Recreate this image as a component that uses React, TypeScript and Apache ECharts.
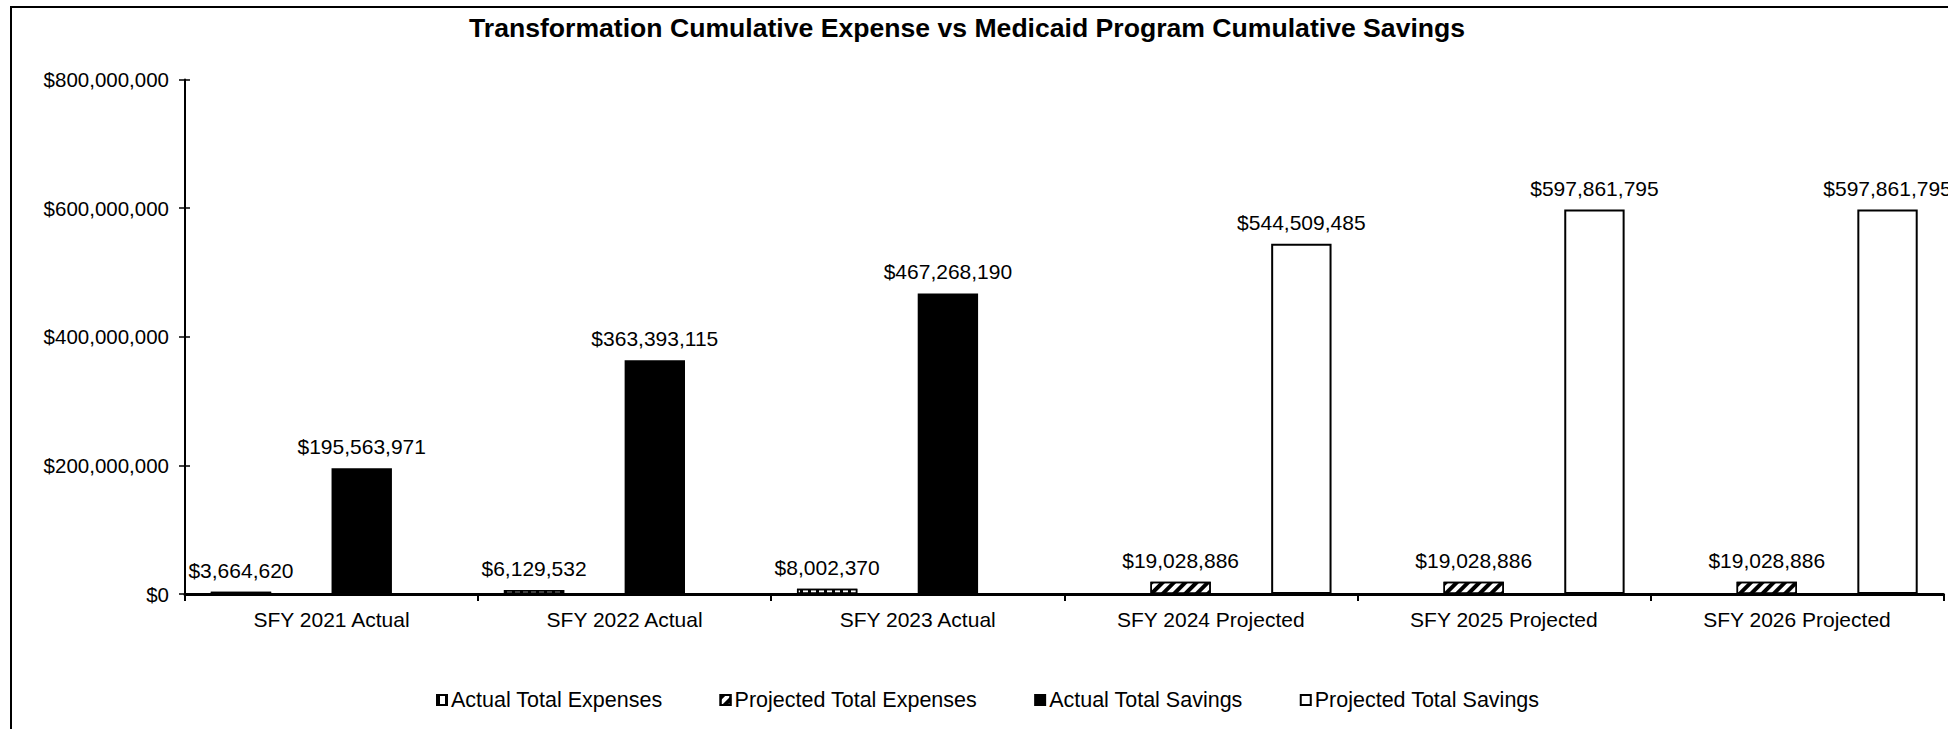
import React, { useEffect, useRef } from 'react';
import * as echarts from 'echarts';

const categories = [
  'SFY 2021 Actual',
  'SFY 2022 Actual',
  'SFY 2023 Actual',
  'SFY 2024 Projected',
  'SFY 2025 Projected',
  'SFY 2026 Projected',
];
const actualExpenses = [3664620, 6129532, 8002370, null, null, null];
const projectedExpenses = [null, null, null, 19028886, 19028886, 19028886];
const actualSavings = [195563971, 363393115, 467268190, null, null, null];
const projectedSavings = [null, null, null, 544509485, 597861795, 597861795];
const yMin = 0;
const yMax = 800000000;
const yInterval = 200000000;

const FONT = '"Liberation Sans", Arial, sans-serif';
const money = (v: number) => '$' + Math.round(v).toLocaleString('en-US');

export default function App() {
  const ref = useRef<HTMLDivElement>(null);
  useEffect(() => {
    if (!ref.current) return;
    const chart = echarts.init(ref.current, undefined, { renderer: 'svg' });
    const label = {
      show: true,
      position: 'top' as const,
      distance: 11,
      color: '#000',
      fontSize: 21,
      fontFamily: FONT,
      formatter: (p: any) => money(p.value),
    };
    chart.setOption({
      animation: false,
      backgroundColor: '#fff',
      textStyle: { fontFamily: FONT, color: '#000' },
      title: {
        text: 'Transformation Cumulative Expense vs Medicaid Program Cumulative Savings',
        left: 469,
        top: 14,
        padding: 0,
        textStyle: { fontSize: 26.6, fontWeight: 'bold', color: '#000', fontFamily: FONT },
      },
      legend: {
        left: 436,
        top: 689,
        padding: 0,
        itemWidth: 10,
        itemHeight: 10,
        itemGap: 57,
        icon: 'rect',
        textStyle: { fontSize: 21.5, color: '#000', fontFamily: FONT, padding: [0, 0, 0, -1] },
        data: ['Actual Total Expenses', 'Projected Total Expenses', 'Actual Total Savings', 'Projected Total Savings'],
      },
      graphic: [
        {
          type: 'rect',
          z: -1,
          shape: { x: 11, y: 7, width: 2200, height: 900 },
          style: { fill: 'none', stroke: '#000', lineWidth: 2 },
          silent: true,
        },
      ],
      grid: { left: 185, right: 4.5, top: 79.5, bottom: 135, containLabel: false },
      xAxis: {
        type: 'category',
        data: categories,
        axisLine: { lineStyle: { color: '#000', width: 3 } },
        axisTick: { show: true, length: 7, lineStyle: { color: '#000', width: 2 } },
        axisLabel: { color: '#000', fontSize: 21, fontFamily: FONT, margin: 15, interval: 0 },
        splitLine: { show: false },
      },
      yAxis: [
        {
          type: 'value',
          min: yMin,
          max: yMax,
          interval: yInterval,
          axisLine: { show: true, lineStyle: { color: '#000', width: 2 } },
          axisTick: { show: true, length: 6, lineStyle: { color: '#000', width: 1.5 } },
          axisLabel: { color: '#000', fontSize: 20.5, fontFamily: FONT, margin: 16, formatter: (v: number) => money(v) },
          splitLine: { show: false },
        },
        {
          type: 'value',
          position: 'left',
          min: yMin,
          max: yMax,
          interval: yInterval,
          axisLine: { show: false },
          axisTick: { show: true, inside: true, length: 5, lineStyle: { color: '#000', width: 1.5 } },
          axisLabel: { show: false },
          splitLine: { show: false },
        },
      ],
      series: [
        {
          name: 'Actual Total Expenses',
          type: 'bar',
          data: actualExpenses,
          barGap: '0%',
          barCategoryGap: '17.6%',
          itemStyle: {
            color: '#fff',
            borderColor: '#000',
            borderWidth: 1.5,
            decal: {
              symbol: 'rect',
              symbolSize: 1,
              dashArrayX: [3, 5],
              dashArrayY: [1, 0],
              color: '#000',
              backgroundColor: '#fff',
            },
          },
          label,
        },
        {
          name: 'Projected Total Expenses',
          type: 'bar',
          data: projectedExpenses,
          barGap: '0%',
          barCategoryGap: '17.6%',
          itemStyle: {
            color: '#fff',
            borderColor: '#000',
            borderWidth: 1.5,
            decal: {
              symbol: 'rect',
              symbolSize: 1,
              dashArrayX: [1, 0],
              dashArrayY: [4, 4],
              rotation: -Math.PI / 4,
              color: '#000',
              backgroundColor: '#fff',
            },
          },
          label,
        },
        {
          name: 'Actual Total Savings',
          type: 'bar',
          data: actualSavings,
          barGap: '0%',
          barCategoryGap: '17.6%',
          itemStyle: { color: '#000', borderColor: '#000', borderWidth: 1.5 },
          label,
        },
        {
          name: 'Projected Total Savings',
          type: 'bar',
          data: projectedSavings,
          barGap: '0%',
          barCategoryGap: '17.6%',
          itemStyle: { color: '#fff', borderColor: '#000', borderWidth: 2 },
          label,
        },
      ],
    });
    return () => chart.dispose();
  }, []);
  return (
    <div
      ref={ref}
      style={{ position: 'fixed', left: 0, top: 0, width: 1948, height: 729, background: '#fff' }}
    />
  );
}
